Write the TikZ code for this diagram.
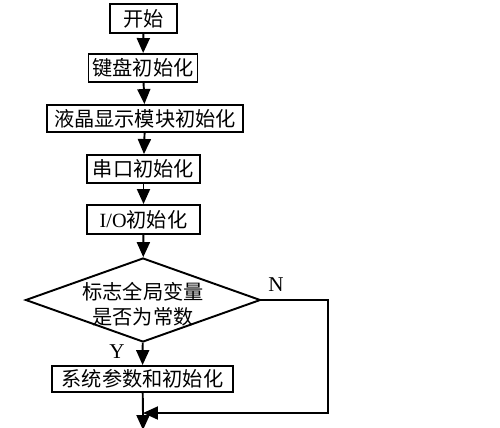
\documentclass[tikz,border=0pt]{standalone}
\usepackage{fontspec}
\setmainfont{Liberation Serif}
\newfontfamily\cjk{Noto Sans CJK SC}
\usetikzlibrary{arrows.meta,shapes.geometric}

\begin{document}
\begin{tikzpicture}[x=0.02cm, y=-0.02cm,
    line width=1.1pt,
    font=\cjk\fontsize{11.5}{14.5}\selectfont,
    stepbox/.style={draw, rectangle, inner sep=0pt},
    decision/.style={draw, diamond, inner sep=0pt,
        minimum width=4.7cm, minimum height=1.68cm},
    arr/.style={-{Triangle[width=0.26cm,length=0.3cm]}}]

    % fix the size of the page
    \useasboundingbox (0,0) rectangle (500,427);

    % the steps, top to bottom
    \node[stepbox, minimum width=1.34cm, minimum height=0.58cm] (start) at (143.5,18.5) {开始};
    \node[stepbox, minimum width=2.18cm, minimum height=0.56cm] (kb) at (143,68) {键盘初始化};
    \node[stepbox, minimum width=3.92cm, minimum height=0.54cm] (lcd) at (145,118.5) {液晶显示模块初始化};
    \node[stepbox, minimum width=2.26cm, minimum height=0.56cm] (uart) at (143.5,169) {串口初始化};
    \node[stepbox, minimum width=2.26cm, minimum height=0.58cm] (io) at (143.5,219.5) {{\rmfamily I/O}初始化};
    \node[decision] (dec) at (143,300) {};
    \node[align=center] (dectext) at (143,304) {标志全局变量\\是否为常数};
    \node[stepbox, minimum width=3.62cm, minimum height=0.52cm] (sys) at (142.5,379) {系统参数和初始化};

    % points of the loop back
    \coordinate (ncorner) at (328,413);
    \coordinate (join) at (143,413);
    \coordinate (stop) at (143,430);

    % connectors
    \draw[arr] (start) -- (kb);
    \draw[arr] (kb) -- (lcd);
    \draw[arr] (lcd) -- (uart);
    \draw[arr] (uart) -- (io);
    \draw[arr] (io) -- (dec);
    \draw[arr] (dec) -- (sys);
    \draw[arr] (dec.east) -| (ncorner) -- (join);
    \draw (sys) -- (join);
    \draw[arr] (join) -- (stop);

    % labels of the two branches
    \node[font=\rmfamily\fontsize{12}{14}\selectfont] (ylab) at (117,352) {Y};
    \node[font=\rmfamily\fontsize{12}{14}\selectfont] (nlab) at (276,285) {N};

\end{tikzpicture}
\end{document}
